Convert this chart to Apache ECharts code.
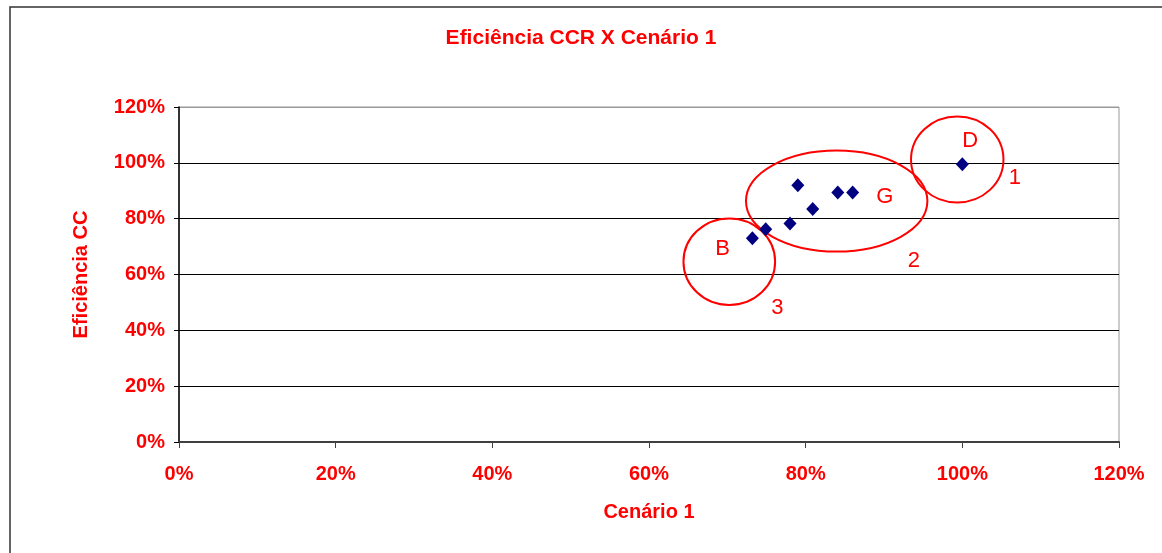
<!DOCTYPE html>
<html>
<head>
<meta charset="utf-8">
<script src="https://cdn.jsdelivr.net/npm/echarts@6/dist/echarts.min.js"></script>
<style>
  html, body { margin: 0; padding: 0; background: #fff; }
  #chart { width: 1162px; height: 553px; }
</style>
</head>
<body>
<div id="chart"></div>
<script>
const fontFam = 'Arial, "Liberation Sans", sans-serif'
const red = '#ff0000'

// Cenário 1 (x) and Eficiência CCR (y), in %
const cenario1 = [73.2, 74.9, 78.0, 79.0, 80.9, 84.1, 86.0, 100.0]
const eficienciaCCR = [73.0, 76.2, 78.3, 92.0, 83.5, 89.4, 89.4, 99.5]

// hand-drawn groups: [centerX, centerY, radiusX, radiusY] in data units
const groupEllipses = [
    [70.25, 64.6, 5.85, 15.5],
    [83.96, 86.3, 11.58, 18.1],
    [99.35, 101.2, 5.9, 15.4]
]
const groupNames = ['D', 'G', 'B', '1', '2', '3']
const groupNamePos = [
    [101.0, 107.9],
    [90.1, 87.7],
    [69.4, 69.2],
    [106.7, 94.5],
    [93.8, 65.0],
    [76.4, 47.9]
]

const points = cenario1.map((x, i) => [x, eficienciaCCR[i]])

const chart = echarts.init(document.getElementById('chart'))

const axisText = { color: red, fontWeight: 'bold', fontSize: 20, fontFamily: fontFam }

chart.setOption({
    animation: false,
    title: {
        text: 'Eficiência CCR X Cenário 1',
        left: 'center',
        top: 23,
        textStyle: { color: red, fontWeight: 'bold', fontSize: 21, fontFamily: fontFam }
    },
    graphic: [
        {
            type: 'rect',
            shape: { x: 10, y: 7, width: 1200, height: 600 },
            style: { fill: 'none', stroke: '#333', lineWidth: 1.5 },
            silent: true
        }
    ],
    grid: {
        left: 179, right: 43, top: 107, bottom: 111,
        show: true, borderColor: '#999', borderWidth: 1
    },
    xAxis: {
        type: 'value',
        min: 0, max: 120, interval: 20,
        name: 'Cenário 1',
        nameLocation: 'middle',
        nameGap: 60,
        nameTextStyle: axisText,
        axisLine: { show: true, lineStyle: { color: '#404040', width: 2 } },
        axisTick: { show: true, length: 6, lineStyle: { color: '#404040' } },
        axisLabel: Object.assign({ formatter: '{value}%', margin: 22 }, axisText),
        splitLine: { show: false }
    },
    yAxis: {
        type: 'value',
        min: 0, max: 120, interval: 20,
        name: 'Eficiência CC',
        nameLocation: 'middle',
        nameRotate: 90,
        nameGap: 88,
        nameTextStyle: axisText,
        axisLine: { show: true, lineStyle: { color: '#000', width: 1.5 } },
        axisTick: { show: true, length: 5, lineStyle: { color: '#000' } },
        axisLabel: Object.assign({ formatter: '{value}%', margin: 14 }, axisText),
        splitLine: {
            show: true,
            lineStyle: { color: ['#000', '#000', '#000', '#000', '#000', '#000', '#999'], width: 1 }
        }
    },
    series: [
        {
            type: 'scatter',
            symbol: 'diamond',
            symbolSize: [13, 14],
            itemStyle: { color: '#000080', opacity: 1 },
            data: points,
            z: 3
        },
        {
            type: 'custom',
            clip: false,
            silent: true,
            data: groupEllipses,
            renderItem: (params, api) => {
                const c = api.coord([api.value(0), api.value(1)])
                const s = api.size([api.value(2), api.value(3)])
                return {
                    type: 'ellipse',
                    shape: { cx: c[0], cy: c[1], rx: s[0], ry: s[1] },
                    style: { fill: 'none', stroke: red, lineWidth: 2 }
                }
            },
            z: 2
        },
        {
            type: 'scatter',
            silent: true,
            symbolSize: 0,
            itemStyle: { opacity: 1 },
            data: groupNamePos.map((p, i) => ({ name: groupNames[i], value: p })),
            label: {
                show: true,
                position: 'inside',
                formatter: '{b}',
                color: red,
                fontSize: 22,
                fontFamily: fontFam
            },
            z: 4
        }
    ]
})
</script>
</body>
</html>
